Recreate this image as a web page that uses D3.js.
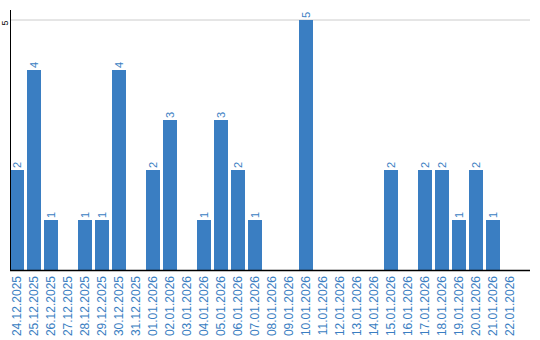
<!DOCTYPE html>
<html><head><meta charset="utf-8">
<script src="https://cdn.jsdelivr.net/npm/d3@7"></script>
<style>body{margin:0;background:#fff}svg{display:block}</style>
</head><body>
<script>
const categories = ["24.12.2025","25.12.2025","26.12.2025","27.12.2025","28.12.2025","29.12.2025","30.12.2025","31.12.2025","01.01.2026","02.01.2026","03.01.2026","04.01.2026","05.01.2026","06.01.2026","07.01.2026","08.01.2026","09.01.2026","10.01.2026","11.01.2026","12.01.2026","13.01.2026","14.01.2026","15.01.2026","16.01.2026","17.01.2026","18.01.2026","19.01.2026","20.01.2026","21.01.2026","22.01.2026"];
const values = [2,4,1,0,1,1,4,0,2,3,0,1,3,2,1,0,0,5,0,0,0,0,2,0,2,2,1,2,1,0];
const yTicks = [5];

const W = 540, H = 340;
const color = "#3a7ec2";
const svg = d3.select("body").append("svg").attr("width", W).attr("height", H);

const x = d3.scaleBand().domain(categories).range([10, 530])
  .paddingInner(3/17).paddingOuter(0.3824).align(0);
const y = d3.scaleLinear().domain([0, 5]).range([270, 20]);

// gridlines
svg.append("g").selectAll("line").data(yTicks).join("line")
  .attr("x1", 10).attr("x2", 530)
  .attr("y1", d => y(d)).attr("y2", d => y(d))
  .attr("stroke", "#cccccc").attr("stroke-width", 1);

// y tick labels
svg.append("g").selectAll("text").data(yTicks).join("text")
  .attr("transform", d => `translate(7.5,${y(d) + 3}) rotate(-90)`)
  .attr("text-anchor", "middle")
  .attr("font-family", "Liberation Sans, Arial, sans-serif")
  .attr("font-size", 9).attr("fill", "#000")
  .text(d => d);

// bars
svg.append("g").selectAll("rect").data(values).join("rect")
  .attr("x", (d, i) => x(categories[i]))
  .attr("width", x.bandwidth())
  .attr("y", d => y(d))
  .attr("height", d => y(0) - y(d))
  .attr("fill", color);

// value labels
svg.append("g").selectAll("text").data(values.map((v, i) => [v, i]).filter(d => d[0] > 0)).join("text")
  .attr("transform", d => `translate(${x(categories[d[1]]) + x.bandwidth()/2 + 4},${y(d[0]) - 2}) rotate(-90)`)
  .attr("text-anchor", "start")
  .attr("font-family", "Liberation Sans, Arial, sans-serif")
  .attr("font-size", 11).attr("fill", color)
  .text(d => d[0]);

// axes lines
svg.append("line").attr("x1", 10.5).attr("x2", 10.5).attr("y1", y(5.2)).attr("y2", 270)
  .attr("stroke", "#000").attr("stroke-width", 1);
svg.append("line").attr("x1", 10).attr("x2", 530).attr("y1", 270.5).attr("y2", 270.5)
  .attr("stroke", "#000").attr("stroke-width", 1.3);

// x labels
svg.append("g").selectAll("text").data(categories).join("text")
  .attr("transform", d => `translate(${x(d) + x.bandwidth()/2 + 4},276) rotate(-90)`)
  .attr("text-anchor", "end")
  .attr("font-family", "Liberation Sans, Arial, sans-serif")
  .attr("font-size", 12).attr("fill", color)
  .text(d => d);
</script>
</body></html>
